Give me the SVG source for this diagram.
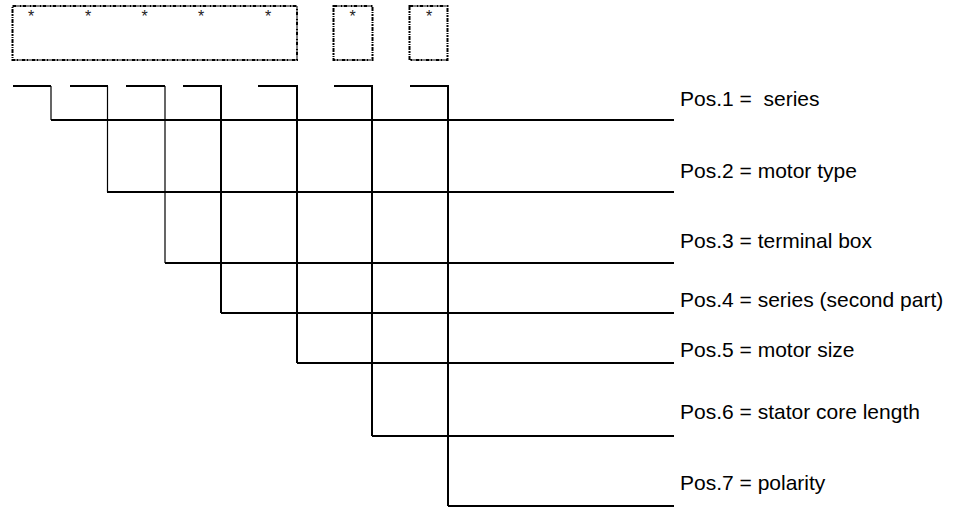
<svg xmlns="http://www.w3.org/2000/svg" width="954" height="507" viewBox="0 0 954 507">
<style>
.box{fill:none;stroke:#000;stroke-width:2;stroke-dasharray:4 1 1 1 2 1}
.star{font-family:"Liberation Sans",Arial,sans-serif;font-size:16px;fill:#222;text-anchor:middle}
.lbl{font-family:"Liberation Sans",Arial,sans-serif;font-size:21px;fill:#000}
.w{fill:none;stroke:#000;stroke-width:2}
.t{fill:none;stroke:#000;stroke-width:1.2}
</style>
<rect width="954" height="507" fill="#fff"/>
<g id="code-boxes">
<g id="box-main">
<rect class="box" x="12.5" y="6" width="284.5" height="54"/>
<text class="star" x="31" y="22">*</text>
<text class="star" x="88" y="22">*</text>
<text class="star" x="144.5" y="22">*</text>
<text class="star" x="201" y="22">*</text>
<text class="star" x="268" y="22">*</text>
</g>
<g id="box-6">
<rect class="box" x="333.5" y="6" width="39" height="54"/>
<text class="star" x="352.5" y="22">*</text>
</g>
<g id="box-7">
<rect class="box" x="409.5" y="6" width="38" height="54"/>
<text class="star" x="429" y="22">*</text>
</g>
</g>
<g id="connectors">
<path class="w" d="M13 86H51M70 86H108M126 86H165M183 86H221M258 86H297M334 86H372M410 86H448"/>
<path class="t" d="M51 86V120M107.5 86V192M165 86V263"/>
<path class="w" d="M221 85V313M297 85V363M372 85V436M448 85V506"/>
<path class="w" d="M51 120H674M107 192H674M165 263H674M221 313H674M297 363H674M372 436H674M448 506H674"/>
</g>
<g id="pos1"><text class="lbl" x="680" y="106">Pos.1 =&#160; series</text></g>
<g id="pos2"><text class="lbl" x="680" y="178">Pos.2 = motor type</text></g>
<g id="pos3"><text class="lbl" x="680" y="248">Pos.3 = terminal box</text></g>
<g id="pos4"><text class="lbl" x="680" y="307">Pos.4 = series (second part)</text></g>
<g id="pos5"><text class="lbl" x="680" y="357">Pos.5 = motor size</text></g>
<g id="pos6"><text class="lbl" x="680" y="419">Pos.6 = stator core length</text></g>
<g id="pos7"><text class="lbl" x="680" y="490">Pos.7 = polarity</text></g>
</svg>
